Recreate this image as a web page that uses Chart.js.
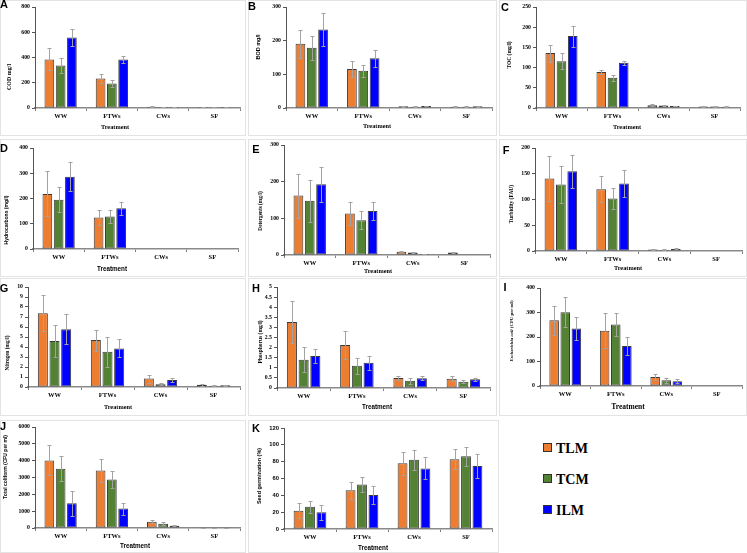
<!DOCTYPE html>
<html>
<head>
<meta charset="utf-8">
<script src="https://cdn.jsdelivr.net/npm/chart.js@4.4.1/dist/chart.umd.min.js"></script>
<style>
    body { margin: 0; background: #fff; width: 747px; height: 553px; overflow: hidden; position: relative; }
    .panel { position: absolute; box-shadow: inset 0 0 0 1px #e3e3e3; }
    .panel canvas { position: absolute; left: 0; top: 0; }
    .txt { position: absolute; white-space: nowrap; font-weight: bold; color: #000; font-size: 20px; line-height: 1; }
    .legend { position: absolute; left: 543px; font: bold 14px "Liberation Serif", "Times New Roman", serif; color: #000; }
    .legend span { display: inline-block; width: 7px; height: 7px; border: 1px solid #333; margin-right: 4px; vertical-align: 1px; }
</style>
</head>
<body>
<div class="legend" style="top:441px"><span style="background:#ED7D31"></span>TLM</div>
<div class="legend" style="top:472px"><span style="background:#548235"></span>TCM</div>
<div class="legend" style="top:503px"><span style="background:#0000FF"></span>ILM</div>
<script>
const treatments = ["WW", "FTWs", "CWs", "SF"];
const series = ["TLM", "TCM", "ILM"];
const seriesColors = ["#ED7D31", "#548235", "#0000FF"];

// valores por serie (TLM, TCM, ILM) en el orden de treatments
const codMean = [[385, 233, 10, 8], [336, 194, 8, 6], [559, 385, 8, 8]];
const codErr = [[87, 35, 4, 3], [60, 28, 3, 2], [70, 25, 3, 2]];

const bodMean = [[191, 116, 5, 4], [179, 111, 4, 4], [233, 148, 6, 5]];
const bodErr = [[42, 24, 1, 1], [35, 18, 1, 1], [50, 25, 1, 1]];

const tocMean = [[136, 89, 7, 4], [116, 75, 6, 4], [178, 112, 5, 3]];
const tocErr = [[21, 6, 2, 1], [20, 7, 1, 1], [26, 5, 1, 1]];

const hydroMean = [[218, 125, 0, 0], [195, 129, 0, 0], [286, 161, 0, 0]];
const hydroErr = [[89, 31, 0, 0], [49, 26, 0, 0], [57, 25, 0, 0]];

const detMean = [[162, 113, 9, 7], [148, 95, 7, 2], [193, 120, 3, 2]];
const detErr = [[60, 32, 1, 1], [57, 25, 1, 0], [48, 25, 1, 0]];

const turbMean = [[141, 120, 3, 0], [129, 102, 2, 0], [155, 131, 4, 0]];
const turbErr = [[43, 25, 1, 0], [36, 21, 1, 0], [32, 27, 1, 0]];

const nitMean = [[7.38, 4.7, 0.84, 0.22], [4.6, 3.52, 0.27, 0.12], [5.77, 3.86, 0.7, 0.17]];
const nitErr = [[1.8, 1.05, 0.4, 0.08], [1.6, 1.5, 0.1, 0.05], [1.5, 0.9, 0.24, 0.05]];

const phosMean = [[3.27, 2.13, 0.5, 0.46], [1.4, 1.1, 0.36, 0.31], [1.58, 1.25, 0.48, 0.43]];
const phosErr = [[1.02, 0.68, 0.1, 0.12], [0.63, 0.39, 0.15, 0.08], [0.36, 0.35, 0.1, 0.06]];

const ecoliMean = [[268, 226, 37, 0], [301, 251, 23, 0], [235, 163, 19, 0]];
const ecoliErr = [[60, 70, 12, 0], [61, 45, 10, 0], [48, 37, 8, 0]];

const colMean = [[4016, 3419, 378, 20], [3519, 2883, 258, 15], [1471, 1153, 139, 15]];
const colErr = [[890, 680, 100, 5], [730, 480, 70, 5], [740, 360, 40, 5]];

const seedMean = [[21.8, 46, 78, 83], [26.5, 53, 82.4, 86.3], [19.8, 40.4, 72, 75]];
const seedErr = [[8.5, 10, 13.5, 12], [7, 9, 12, 11.5], [8.7, 11, 13, 14]];

const SERIF = '"Liberation Serif", "Times New Roman", serif';
const SANS = '"Liberation Sans", Arial, sans-serif';

// posiciones de cada panel (página) y textos
const panels = [
    { letter: "A", mean: codMean, err: codErr, max: 800, step: 200,
      x: 0, y: 0, w: 246, h: 136, ax: 35, top: 7, zero: 108, right: 240,
      title: "COD mg/l", tx: 9, ty: 77, tFont: SERIF, tSize: 6,
      treatX: 115, treatY: 127, trFont: SERIF, lx: 4, ly: 4, tickFont: SERIF },
    { letter: "B", mean: bodMean, err: bodErr, max: 300, step: 100,
      x: 248, y: 0, w: 249, h: 136, ax: 286, top: 7, zero: 108, right: 492,
      title: "BOD mg/l", tx: 258, ty: 47, tFont: SANS, tSize: 5.5,
      treatX: 377, treatY: 126, trFont: SERIF, lx: 251.5, ly: 6, tickFont: SERIF },
    { letter: "C", mean: tocMean, err: tocErr, max: 250, step: 50,
      x: 499, y: 0, w: 248, h: 136, ax: 536, top: 7, zero: 108, right: 740,
      title: "TOC (mg/l)", tx: 509, ty: 55, tFont: SERIF, tSize: 5.5,
      treatX: 627, treatY: 127, trFont: SERIF, lx: 505, ly: 6.5, tickFont: SERIF },
    { letter: "D", mean: hydroMean, err: hydroErr, max: 400, step: 100,
      x: 0, y: 139, w: 246, h: 138, ax: 33, top: 148, zero: 249, right: 238,
      title: "Hydrocarbons (mg/l)", tx: 6, ty: 220, tFont: SANS, tSize: 5,
      treatX: 112, treatY: 269, trFont: SANS, lx: 3.5, ly: 148, tickFont: SERIF },
    { letter: "E", mean: detMean, err: detErr, max: 300, step: 100,
      x: 248, y: 139, w: 249, h: 138, ax: 284, top: 145, zero: 255, right: 490,
      title: "Detergents (mg/l)", tx: 260, ty: 211, tFont: SERIF, tSize: 5.3,
      treatX: 378, treatY: 271, trFont: SERIF, lx: 256, ly: 149, tickFont: SERIF },
    { letter: "F", mean: turbMean, err: turbErr, max: 200, step: 50,
      x: 499, y: 139, w: 248, h: 138, ax: 535, top: 148, zero: 251, right: 742,
      title: "Turbidity (FAU)", tx: 511, ty: 204, tFont: SERIF, tSize: 5.5,
      treatX: 628, treatY: 268, trFont: SERIF, lx: 506, ly: 149.5, tickFont: SERIF },
    { letter: "G", mean: nitMean, err: nitErr, max: 10, step: 1,
      x: 0, y: 278, w: 246, h: 138, ax: 28, top: 287, zero: 387, right: 240,
      title: "Nitrogen (mg/l)", tx: 7, ty: 353, tFont: SERIF, tSize: 5.3,
      treatX: 118, treatY: 407, trFont: SERIF, lx: 3.5, ly: 288, tickFont: SERIF },
    { letter: "H", mean: phosMean, err: phosErr, max: 5, step: 0.5,
      x: 248, y: 278, w: 249, h: 138, ax: 277, top: 287, zero: 388, right: 490,
      title: "Phosphorus (mg/l)", tx: 260, ty: 342, tFont: SERIF, tSize: 5.5,
      treatX: 377, treatY: 407, trFont: SANS, lx: 256, ly: 288, tickFont: SERIF },
    { letter: "I", mean: ecoliMean, err: ecoliErr, max: 400, step: 100,
      x: 499, y: 278, w: 248, h: 138, ax: 540, top: 288, zero: 386, right: 742,
      title: "<i>Escherichia coli</i> (CFU per ml)", tx: 511, ty: 331, tFont: SERIF, tSize: 4.8,
      treatX: 628, treatY: 406, trFont: SERIF, trSize: 7.5, lx: 504.5, ly: 287, tickFont: SERIF },
    { letter: "J", mean: colMean, err: colErr, max: 6000, step: 1000,
      x: 0, y: 420, w: 246, h: 133, ax: 35, top: 427, zero: 528, right: 240,
      title: "Total coliform (CFU per ml)", tx: 5, ty: 467, tFont: SANS, tSize: 5,
      treatX: 135, treatY: 546, trFont: SANS, lx: 2.5, ly: 425.5, tickFont: SERIF },
    { letter: "K", mean: seedMean, err: seedErr, max: 120, step: 20,
      x: 248, y: 420, w: 251, h: 133, ax: 284, top: 428, zero: 529, right: 492,
      title: "Seed germination (%)", tx: 259, ty: 476, tFont: SANS, tSize: 5.5,
      treatX: 373, treatY: 548, trFont: SANS, lx: 256, ly: 427.5, tickFont: SANS },
];

// barras de error dibujadas sobre las barras
const errorBars = {
    id: "errorBars",
    afterDatasetsDraw(chart) {
        const ctx = chart.ctx;
        const yScale = chart.scales.y;
        ctx.save();
        ctx.strokeStyle = "#a3a3a3";
        ctx.lineWidth = 1;
        chart.data.datasets.forEach((ds, i) => {
            chart.getDatasetMeta(i).data.forEach((bar, j) => {
                const e = ds.err[j];
                if (!e) return;
                const v = ds.data[j];
                const x = Math.round(bar.x) + 0.5;
                const yTop = Math.round(yScale.getPixelForValue(v + e)) + 0.5;
                const yBot = Math.round(yScale.getPixelForValue(Math.max(v - e, 0))) + 0.5;
                ctx.beginPath();
                ctx.moveTo(x, yBot);
                ctx.lineTo(x, yTop);
                ctx.moveTo(x - 2, yTop);
                ctx.lineTo(x + 2, yTop);
                ctx.moveTo(x - 2, yBot);
                ctx.lineTo(x + 2, yBot);
                ctx.stroke();
            });
        });
        ctx.restore();
    },
};

function addText(html, cx, cy, size, family, rotate) {
    const el = document.createElement("div");
    el.className = "txt";
    el.innerHTML = html;
    el.style.left = cx + "px";
    el.style.top = cy + "px";
    el.style.fontFamily = family;
    el.style.transform = "translate(-50%,-50%)" + (rotate ? " rotate(-90deg)" : "") + " scale(" + size / 20 + ")";
    document.body.appendChild(el);
}

panels.forEach((p) => {
    const box = document.createElement("div");
    box.className = "panel";
    box.style.left = p.x + "px";
    box.style.top = p.y + "px";
    box.style.width = p.w + "px";
    box.style.height = p.h + "px";
    const canvas = document.createElement("canvas");
    canvas.width = p.w;
    canvas.height = p.h;
    box.appendChild(canvas);
    document.body.appendChild(box);

    const caLeft = p.ax - p.x;
    const caTop = p.top - p.y;
    const caBottom = p.zero - p.y;
    const caRight = p.right - p.x;

    new Chart(canvas, {
        type: "bar",
        data: {
            labels: treatments,
            datasets: series.map((name, i) => ({
                label: name,
                data: p.mean[i],
                err: p.err[i],
                backgroundColor: seriesColors[i],
                borderColor: "#3a3a3a",
                borderWidth: (c) => (c.raw ? 1 : 0),
                borderSkipped: false,
                categoryPercentage: 0.66,
                barPercentage: 0.86,
            })),
        },
        options: {
            responsive: false,
            animation: false,
            events: [],
            layout: {
                padding: { left: 0, top: caTop, right: p.w - caRight, bottom: 0 },
            },
            plugins: {
                legend: { display: false },
                tooltip: { enabled: false },
            },
            scales: {
                x: {
                    grid: {
                        display: true,
                        drawOnChartArea: false,
                        drawTicks: true,
                        tickLength: 3,
                        offset: true,
                        color: "#7f7f7f",
                    },
                    border: { color: "#8a8a8a", width: 1.5 },
                    ticks: {
                        color: "#000",
                        padding: 1,
                        maxRotation: 0,
                        autoSkip: false,
                        font: { family: SERIF, weight: "bold", size: 6.5 },
                    },
                    afterFit: (s) => {
                        s.height = p.h - caBottom;
                    },
                },
                y: {
                    min: 0,
                    max: p.max,
                    grid: {
                        display: true,
                        drawOnChartArea: false,
                        tickLength: 3,
                        color: "#555",
                    },
                    border: { color: "#555", width: 1 },
                    ticks: {
                        stepSize: p.step,
                        color: "#000",
                        padding: 2,
                        font: { family: p.tickFont, weight: "bold", size: 5.8 },
                        callback: (v) => String(v),
                    },
                    afterFit: (s) => {
                        s.width = caLeft;
                    },
                },
            },
        },
        plugins: [errorBars],
    });

    addText(p.letter, p.lx, p.ly, 11, SANS, false);
    addText(p.title, p.tx, p.ty, p.tSize, p.tFont, true);
    addText("Treatment", p.treatX, p.treatY, p.trSize || 6.3, p.trFont, false);
});
</script>
</body>
</html>
